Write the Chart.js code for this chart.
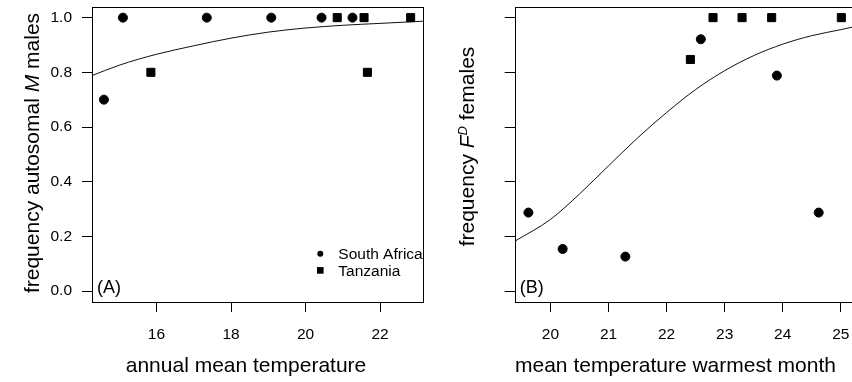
<!DOCTYPE html>
<html lang="en">
<head>
    <meta charset="UTF-8">
    <title>Autosomal M and F^D frequency vs temperature</title>
    <style>
        body {
            margin: 0;
            overflow: hidden;
            background: #fff;
        }
        canvas {
            position: absolute;
            top: 0;
        }
    </style>
    <script src="https://cdn.jsdelivr.net/npm/chart.js@4.4.0/dist/chart.umd.min.js"></script>
</head>
<body>
    <canvas id="chartA" width="430" height="382" style="left: 0px;"></canvas>
    <canvas id="chartB" width="433" height="382" style="left: 427px;"></canvas>

    <script>
        // Panel A - annual mean temperature vs frequency of autosomal M males
        const saTempA = [14.59, 15.10, 17.35, 19.08, 20.43, 21.26];
        const saFreqA = [0.70, 1.0, 1.0, 1.0, 1.0, 1.0];
        const tzTempA = [15.85, 20.85, 21.57, 21.66, 22.82];
        const tzFreqA = [0.80, 1.0, 1.0, 0.80, 1.0];
        const fitTempA = [14.27, 15, 16, 17, 18, 19, 20, 21, 22, 23.16];
        const fitFreqA = [0.788, 0.826, 0.866, 0.897, 0.925, 0.947, 0.962, 0.972, 0.979, 0.987];
        const xTicksA = [16, 18, 20, 22];

        // Panel B - mean temperature warmest month vs frequency of F^D females
        const saTempB = [19.62, 20.21, 21.29, 22.59, 23.90, 24.62];
        const saFreqB = [0.287, 0.154, 0.126, 0.921, 0.788, 0.287];
        const tzTempB = [22.41, 22.80, 23.30, 23.81, 25.01];
        const tzFreqB = [0.847, 1.0, 1.0, 1.0, 1.0];
        const fitTempB = [19.384, 20, 20.5, 21, 21.5, 22, 22.5, 23, 23.5, 24, 24.5, 25, 25.216];
        const fitFreqB = [0.182, 0.262, 0.355, 0.458, 0.56, 0.653, 0.737, 0.806, 0.861, 0.903, 0.934, 0.956, 0.966];
        const xTicksB = [20, 21, 22, 23, 24, 25];

        const yTicks = [0, 0.2, 0.4, 0.6, 0.8, 1.0];

        const FONT = '"Liberation Sans", Arial, Helvetica, sans-serif';
        Chart.defaults.font.family = FONT;
        Chart.defaults.color = '#000';

        function toPoints(xs, ys) {
            return xs.map((x, i) => ({x: x, y: ys[i]}));
        }

        // draws text pieces (some italic / superscript) centered on 0,0
        function drawRuns(ctx, runs) {
            const fontOf = r => (r.italic ? 'italic ' : '') + (r.size || 21) + 'px ' + FONT;
            let total = 0;
            runs.forEach(r => {
                ctx.font = fontOf(r);
                total += ctx.measureText(r.text).width;
            });
            let x = -total / 2;
            ctx.textAlign = 'left';
            ctx.textBaseline = 'alphabetic';
            runs.forEach(r => {
                ctx.font = fontOf(r);
                ctx.fillText(r.text, x, -(r.raise || 0));
                x += ctx.measureText(r.text).width;
            });
        }

        function panelDecor(opts) {
            return {
                id: 'panelDecor',
                afterDraw(chart) {
                    const ctx = chart.ctx;
                    const a = chart.chartArea;
                    ctx.save();
                    // box round the plot region
                    ctx.strokeStyle = '#000';
                    ctx.lineWidth = 1;
                    ctx.strokeRect(Math.round(a.left) + 0.5, Math.round(a.top) + 0.5,
                        Math.round(a.right - a.left), Math.round(a.bottom - a.top));

                    ctx.fillStyle = '#000';
                    // panel letter
                    ctx.font = '18px ' + FONT;
                    ctx.textAlign = 'left';
                    ctx.textBaseline = 'alphabetic';
                    ctx.fillText(opts.panel, a.left + 5, 293);

                    // x axis title
                    ctx.font = '21px ' + FONT;
                    ctx.textAlign = 'center';
                    ctx.fillText(opts.xTitle, opts.xTitleX, 372);

                    // legend
                    if (opts.legend) {
                        const lg = opts.legend;
                        ctx.beginPath();
                        ctx.arc(lg.x, lg.y, 3, 0, Math.PI * 2);
                        ctx.fill();
                        ctx.fillRect(lg.x - 3.3, lg.y + 16.7 - 3.3, 6.6, 6.6);
                        ctx.font = '15.5px ' + FONT;
                        ctx.textAlign = 'left';
                        ctx.textBaseline = 'middle';
                        ctx.fillText('South Africa', lg.x + 18, lg.y + 1);
                        ctx.fillText('Tanzania', lg.x + 18, lg.y + 17.7);
                    }

                    // y axis title, rotated
                    ctx.translate(opts.yTitleX, opts.yTitleY);
                    ctx.rotate(-Math.PI / 2);
                    drawRuns(ctx, opts.yTitleRuns);
                    ctx.restore();
                }
            };
        }

        // no label overhang padding, so the plot region sits where layout.padding says
        function noOverhang(s) {
            s.paddingTop = 0;
            s.paddingBottom = 0;
            s.paddingLeft = 0;
            s.paddingRight = 0;
        }

        function makeScales(xMin, xMax, xTicks, yWidth, showYLabels) {
            const gridOpts = {
                drawOnChartArea: false,
                drawTicks: true,
                tickLength: 10,
                color: '#000',
                lineWidth: 1
            };
            return {
                x: {
                    type: 'linear',
                    position: 'bottom',
                    min: xMin,
                    max: xMax,
                    afterBuildTicks: s => { s.ticks = xTicks.map(v => ({value: v})); },
                    afterFit: s => { s.height = 80; noOverhang(s); },
                    ticks: {
                        font: {size: 15.5},
                        color: '#000',
                        padding: 13,
                        maxRotation: 0,
                        autoSkip: false,
                        callback: v => String(v)
                    },
                    grid: gridOpts,
                    border: {display: false}
                },
                y: {
                    type: 'linear',
                    position: 'left',
                    min: -0.04,
                    max: 1.04,
                    afterBuildTicks: s => { s.ticks = yTicks.map(v => ({value: v})); },
                    afterFit: s => { s.width = yWidth; noOverhang(s); },
                    ticks: {
                        font: {size: 15.5},
                        color: '#000',
                        padding: 10,
                        callback: v => showYLabels ? v.toFixed(1) : ''
                    },
                    grid: gridOpts,
                    border: {display: false}
                }
            };
        }

        function makeDatasets(saX, saY, tzX, tzY, fitX, fitY) {
            return [{
                label: 'South Africa',
                data: toPoints(saX, saY),
                backgroundColor: '#000',
                borderColor: '#000',
                borderWidth: 1,
                pointStyle: 'circle',
                pointRadius: 4.5,
                pointHoverRadius: 4.5
            }, {
                label: 'Tanzania',
                data: toPoints(tzX, tzY),
                backgroundColor: '#000',
                borderColor: '#000',
                borderWidth: 1,
                pointStyle: 'rect',
                pointRadius: 5.7,
                pointHoverRadius: 5.7
            }, {
                label: 'fit',
                data: toPoints(fitX, fitY),
                showLine: true,
                borderColor: '#111',
                borderWidth: 1,
                pointRadius: 0,
                pointHoverRadius: 0,
                cubicInterpolationMode: 'monotone',
                fill: false
            }];
        }

        const commonOptions = {
            responsive: false,
            animation: false,
            events: [],
            plugins: {
                legend: {display: false},
                tooltip: {enabled: false},
                title: {display: false}
            }
        };

        new Chart(document.getElementById('chartA').getContext('2d'), {
            type: 'scatter',
            data: {datasets: makeDatasets(saTempA, saFreqA, tzTempA, tzFreqA, fitTempA, fitFreqA)},
            options: Object.assign({}, commonOptions, {
                layout: {padding: {left: 0, top: 3.3, right: 1, bottom: 0}},
                scales: makeScales(14.27, 23.16, xTicksA, 92, true)
            }),
            plugins: [panelDecor({
                panel: '(A)',
                xTitle: 'annual mean temperature',
                xTitleX: 246,
                yTitleX: 39,
                yTitleY: 153,
                yTitleRuns: [
                    {text: 'frequency autosomal '},
                    {text: 'M', italic: true},
                    {text: ' males'}
                ],
                legend: {x: 320.3, y: 253.7}
            })]
        });

        new Chart(document.getElementById('chartB').getContext('2d'), {
            type: 'scatter',
            data: {datasets: makeDatasets(saTempB, saFreqB, tzTempB, tzFreqB, fitTempB, fitFreqB)},
            options: Object.assign({}, commonOptions, {
                layout: {padding: {left: 0, top: 3.3, right: 4.5, bottom: 0}},
                scales: makeScales(19.384, 25.216, xTicksB, 87.7, false)
            }),
            plugins: [panelDecor({
                panel: '(B)',
                xTitle: 'mean temperature warmest month',
                xTitleX: 248.5,
                yTitleX: 47,
                yTitleY: 146.5,
                yTitleRuns: [
                    {text: 'frequency '},
                    {text: 'F', italic: true},
                    {text: 'D', italic: true, size: 13, raise: 7},
                    {text: ' females'}
                ]
            })]
        });
    </script>
</body>
</html>
